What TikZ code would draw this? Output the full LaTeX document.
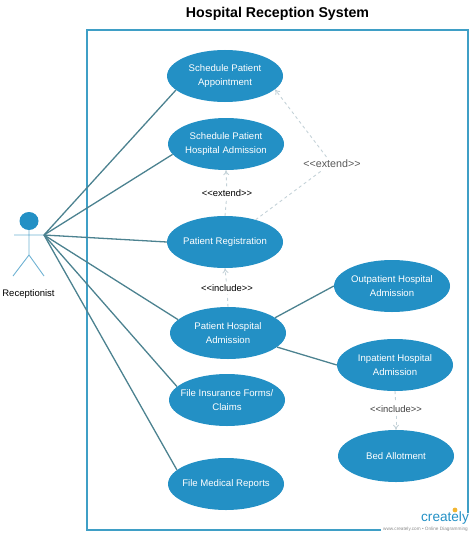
\documentclass[tikz,border=0pt]{standalone}
\usepackage{fontspec}
\setmainfont{Liberation Sans}
\usetikzlibrary{arrows.meta,positioning,calc,shapes.geometric}
\definecolor{usecase}{HTML}{2390C5}
\definecolor{frameblue}{HTML}{3F9FC6}
\definecolor{assoc}{HTML}{4C8290}
\definecolor{dep}{HTML}{C4D2D8}
\definecolor{actorline}{HTML}{6FB2D3}
\definecolor{bulb}{HTML}{F2B632}
\tikzset{
  usecasenode/.style={ellipse, fill=usecase, text=white, minimum width=116, minimum height=52, inner xsep=-15pt, inner ysep=0pt, align=center, font=\fontsize{9.6}{13.5}\selectfont},
  assocline/.style={draw=assoc, line width=1.3pt},
  depline/.style={draw=dep, dashed, line width=0.9pt},
  deplabel/.style={font=\fontsize{9.4}{11}\selectfont, inner sep=3pt},
}
\begin{document}
\begin{tikzpicture}[x=1pt, y=-1pt, >={To[length=5pt,width=6pt]}]
\useasboundingbox (0,0) rectangle (474,535);
% system boundary
\node[font=\bfseries\fontsize{14.2}{16}\selectfont] (title) at (277.5,14) {Hospital Reception System};
\draw[frameblue, line width=1.2pt] (381,530) -- (87,530) -- (87,30) -- (468,30) -- (468,513);
% actor
\fill[usecase] (29,221) ellipse (9.5 and 9);
\draw[actorline, line width=0.9pt] (29,230) -- (29,255) (14,235) -- (44,235) (13,276) -- (29,255) -- (44,276);
\coordinate (hand) at (44,235);
\node[font=\fontsize{9.5}{11}\selectfont] (receptionist) at (28.5,294) {Receptionist};
% use cases
\node[usecasenode] (appointment) at (225,76) {Schedule Patient\\Appointment};
\node[usecasenode] (hospadm) at (226,144) {Schedule Patient\\Hospital Admission};
\node[usecasenode] (registration) at (225,242) {Patient Registration};
\node[usecasenode] (admission) at (228,333) {Patient Hospital\\Admission};
\node[usecasenode] (insurance) at (227,400) {File Insurance Forms/\\Claims};
\node[usecasenode] (reports) at (226,484) {File Medical Reports};
\node[usecasenode] (outpatient) at (392,286) {Outpatient Hospital\\Admission};
\node[usecasenode] (inpatient) at (395,365) {Inpatient Hospital\\Admission};
\node[usecasenode] (bed) at (396,456) {Bed Allotment};
% associations
\draw[assocline] (hand) -- (appointment.196);
\draw[assocline] (hand) -- (hospadm.191);
\draw[assocline] (hand) -- (registration.west);
\draw[assocline] (hand) -- (admission.165);
\draw[assocline] (hand) -- (insurance.165);
\draw[assocline] (hand) -- (reports.164);
\draw[assocline] (admission.18) -- (outpatient.west);
\draw[assocline] (admission.-16) -- (inpatient.west);
% dependencies
\node[deplabel, font=\fontsize{10.7}{12}\selectfont, text=black!65] (extendb) at (332,164) {<{}<extend>{}>};
\node[deplabel] (extenda) at (227,193) {<{}<extend>{}>};
\node[deplabel] (includea) at (227,288) {<{}<include>{}>};
\node[deplabel, text=black!75] (includeb) at (396,409) {<{}<include>{}>};
\draw[depline, ->] (extendb.128) -- (appointment.-15);
\draw[depline] (registration.36) -- (extendb.213);
\draw[depline, ->] (extenda) -- (hospadm.south);
\draw[depline] (registration.north) -- (extenda);
\draw[depline, ->] (includea) -- (registration.south);
\draw[depline] (admission.north) -- (includea);
\draw[depline, ->] (includeb) -- (bed.north);
\draw[depline] (inpatient.south) -- (includeb);
% logo
\node[text=usecase, font=\fontsize{13.6}{15}\selectfont, inner sep=0pt] (logo) at (445,518) {creately};
\fill[bulb] (455,510) circle (2.4);
\node[text=black!45, font=\fontsize{4.7}{5}\selectfont, inner sep=0pt, anchor=east] (weblink) at (468,529) {www.creately.com • Online Diagramming};
\end{tikzpicture}
\end{document}
